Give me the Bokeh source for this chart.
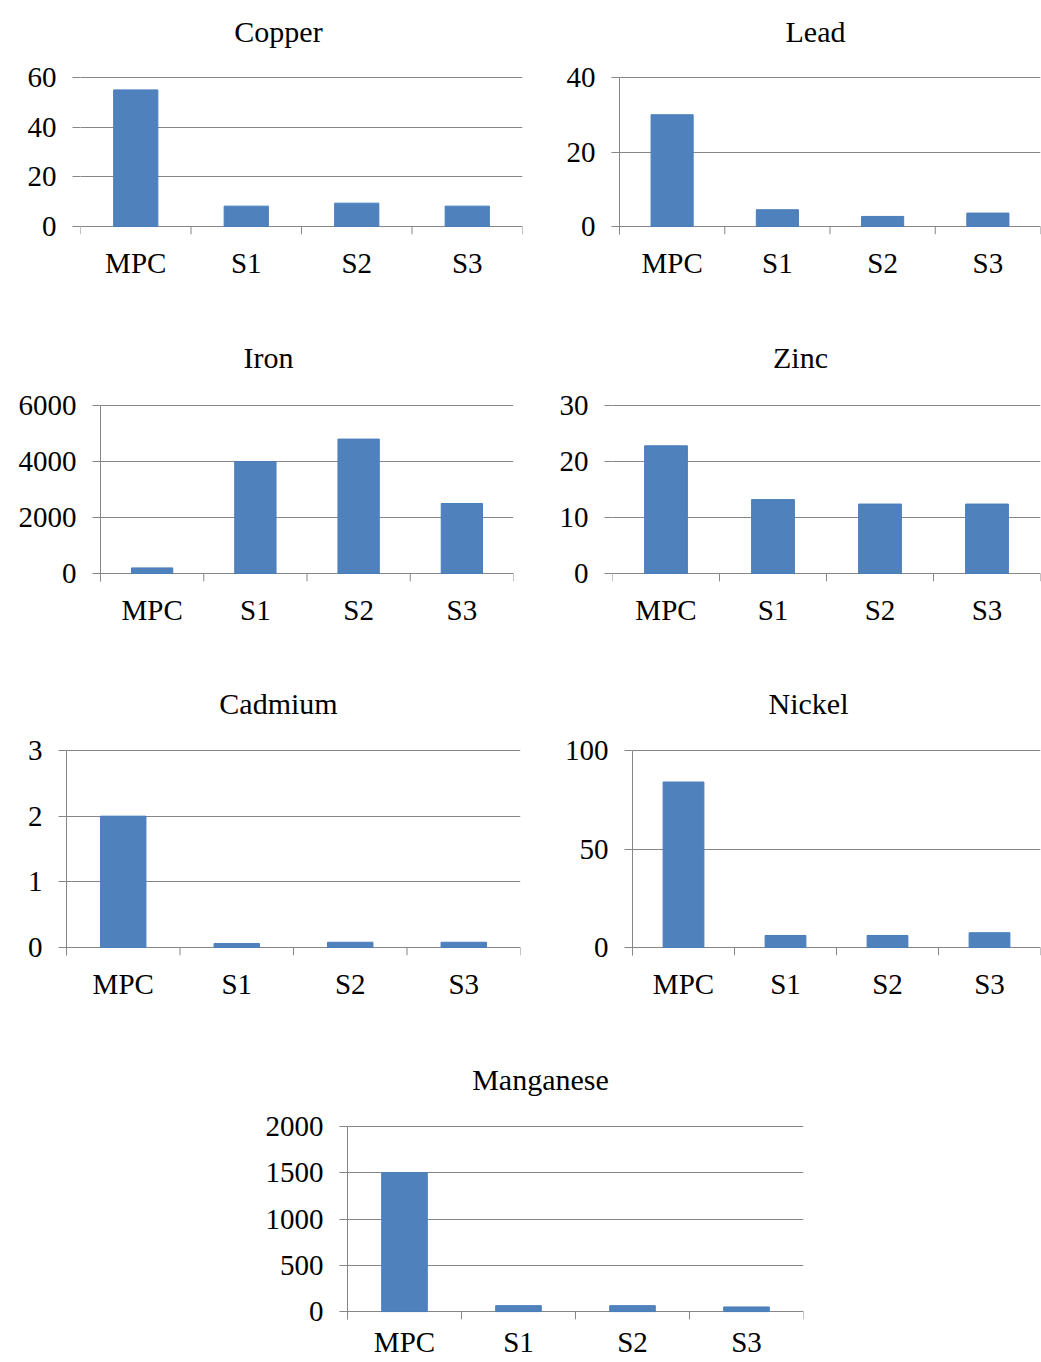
from bokeh.plotting import figure
from bokeh.models import Range1d, FactorRange, FixedTicker
from bokeh.core.properties import value
from bokeh.layouts import column, row
from bokeh.embed import file_html
from bokeh.resources import INLINE

categories = ["MPC", "S1", "S2", "S3"]

copper = [55, 8.2, 9.4, 8.2]
lead = [30, 4.5, 2.7, 3.6]
iron = [200, 4000, 4800, 2500]
zinc = [22.8, 13.2, 12.4, 12.4]
cadmium = [2.0, 0.06, 0.08, 0.08]
nickel = [84, 6.1, 6.1, 7.5]
manganese = [1500, 64, 64, 50]

copper_ticks = [0, 20, 40, 60]
lead_ticks = [0, 20, 40]
iron_ticks = [0, 2000, 4000, 6000]
zinc_ticks = [0, 10, 20, 30]
cadmium_ticks = [0, 1, 2, 3]
nickel_ticks = [0, 50, 100]
manganese_ticks = [0, 500, 1000, 1500, 2000]

FONT = "Liberation Serif"
BAR = "#4F81BD"
GRID = "#868686"


def chart(name, values, ticks, fig, frame, title_pos, show_yline=True, xstandoff=12):
    fx, fy, fw, fh = fig                 # figure box on the page
    L, R, T, Z = frame                   # left, right, top value line, zero line
    B = Z + 8                            # frame bottom (8px tick zone below zero)
    tx, ty = title_pos
    ymax = ticks[-1]
    k = ymax / (Z - T)                   # data units per pixel
    ystart = -(B - Z) * k
    yend = ymax + (T - fy) * k           # frame reaches the top of the figure
    n = len(categories)
    p = figure(width=fw, height=fh, output_backend="svg", toolbar_location=None,
               x_range=FactorRange(factors=categories, range_padding=0),
               y_range=Range1d(ystart, yend),
               min_border_left=L - fx, min_border_right=fx + fw - R,
               min_border_top=0, min_border_bottom=fy + fh - B)
    p.outline_line_color = None
    p.background_fill_color = "white"
    p.border_fill_color = "white"
    p.xgrid.visible = False
    p.ygrid.ticker = FixedTicker(ticks=ticks)
    p.ygrid.grid_line_color = GRID
    p.ygrid.grid_line_width = 1

    ya = p.yaxis[0]
    ya.ticker = FixedTicker(ticks=ticks)
    ya.bounds = (ystart, ymax)
    ya.minor_tick_line_color = None
    ya.major_tick_in = 0
    ya.major_tick_out = 8
    ya.major_tick_line_color = GRID
    ya.axis_line_color = GRID if show_yline else None
    ya.major_label_standoff = 16
    ya.major_label_text_font = FONT
    ya.major_label_text_font_size = "29px"
    ya.major_label_text_color = "black"

    xa = p.xaxis[0]
    xa.major_tick_in = 0
    xa.major_tick_out = 0
    xa.axis_line_color = None
    xa.major_label_standoff = xstandoff
    xa.major_label_text_font = FONT
    xa.major_label_text_font_size = "29px"
    xa.major_label_text_color = "black"

    p.vbar(x=categories, top=values, bottom=0, width=0.4,
           fill_color=BAR, line_color="#4A7EBB", line_width=1)

    bounds = list(range(n + 1))
    p.segment(x0=bounds, x1=bounds, y0=[0] * len(bounds), y1=[ystart] * len(bounds),
              line_color=GRID, line_width=1)

    # chart title, centred where the reference puts it
    xs = (tx - L) / (R - L) * n
    yd = (Z - ty) * k
    p.text(x=[xs], y=[yd], text=[name], text_align="center", text_baseline="middle",
           text_font=value(FONT), text_font_size=value("30px"), text_color="black")
    return p


p1 = chart("Copper", copper, copper_ticks, (0, 0, 536, 300), (80, 522, 77, 226), (278, 31), False)
p2 = chart("Lead", lead, lead_ticks, (536, 0, 505, 300), (619, 1040, 77, 226), (815, 31))
p3 = chart("Iron", iron, iron_ticks, (0, 300, 536, 345), (100, 513, 405, 573), (268, 357))
p4 = chart("Zinc", zinc, zinc_ticks, (536, 300, 505, 345), (612, 1040, 405, 573), (800, 357), False)
p5 = chart("Cadmium", cadmium, cadmium_ticks, (0, 645, 536, 375), (66, 520, 750, 947), (278, 703))
p6 = chart("Nickel", nickel, nickel_ticks, (536, 645, 505, 375), (632, 1040, 750, 947), (808, 703))
p7 = chart("Manganese", manganese, manganese_ticks, (0, 1020, 1041, 340), (347, 803, 1127, 1314), (540, 1080),
           True, 6)

layout = column(row(p1, p2), row(p3, p4), row(p5, p6), p7)

open("out.html", "w").write(file_html(layout, INLINE))
